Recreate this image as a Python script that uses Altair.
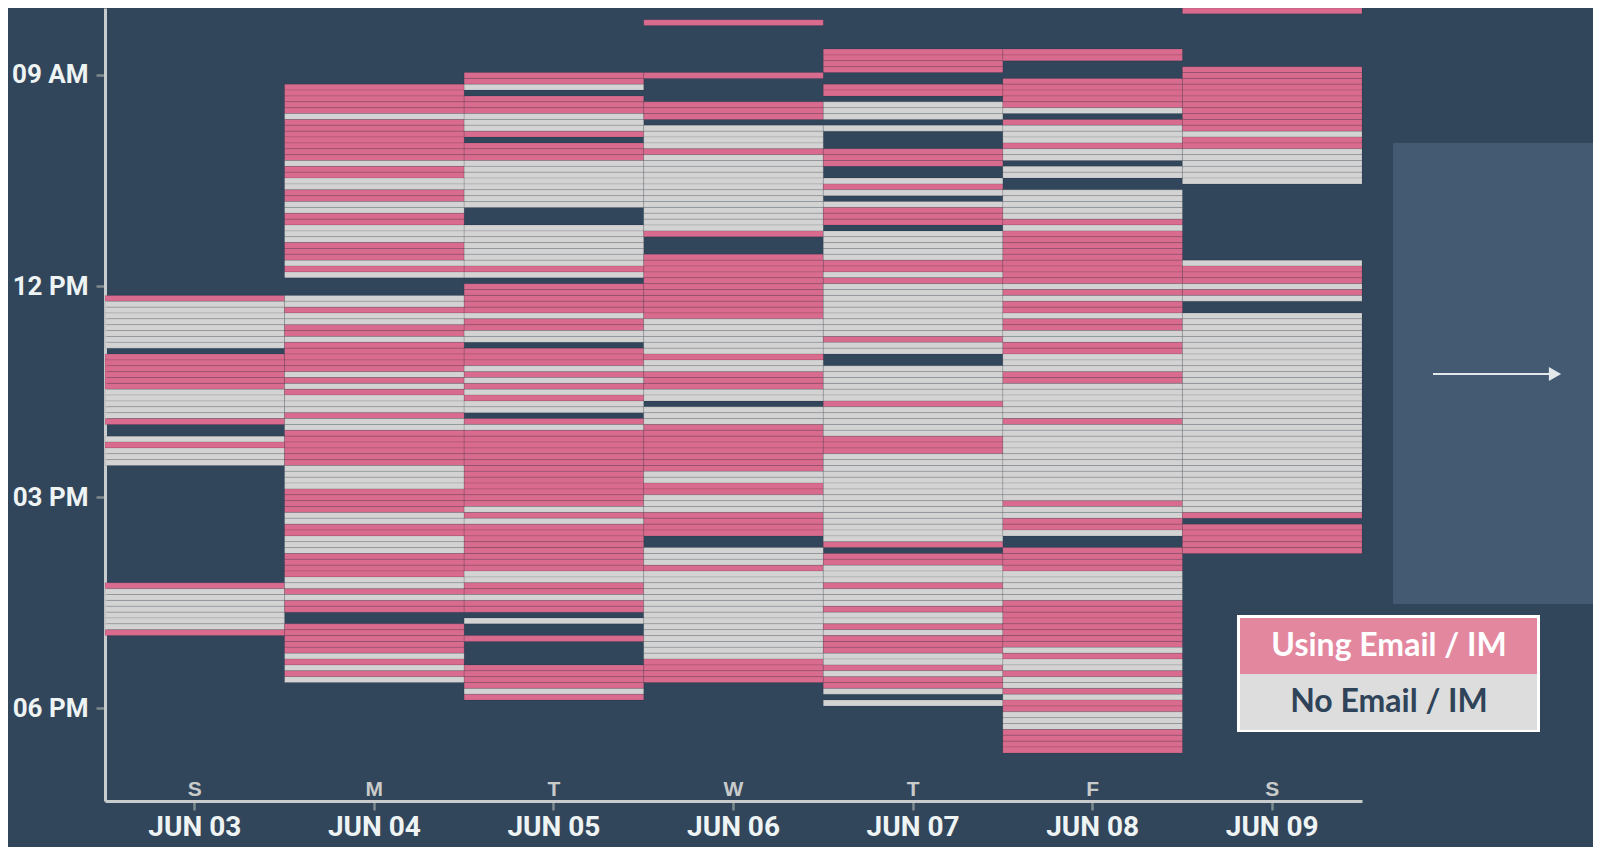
import altair as alt
import pandas as pd

# ---------------- data ----------------
DAYS = ["JUN 03", "JUN 04", "JUN 05", "JUN 06", "JUN 07", "JUN 08", "JUN 09"]
WEEKDAYS = ["S", "M", "T", "W", "T", "F", "S"]
FIRST_BIN_MIN = 483          # 08:03, first 5-minute bin on the time axis
BIN_MIN = 5
START_BIN = [49, 13, 11, 2, 7, 7, 0]   # index of first bin per day
# run-length encoded bins: E = using email/IM, N = no email/IM, _ = no record
RUNS = [
    "E1 N8 _1 E6 N5 E1 _2 N1 E1 N3 _20 E1 N7 E1",
    "E5 N1 E7 N1 E2 N2 E2 N2 E2 N3 E3 N1 E1 N1 _3 N2 E1 N2 E2 N1 E5 N1 E1 N1 E1 N3 E1 N2 E6 N4 E4 N2 E2 N3 E4 N2 E1 N1 E2 _2 E5 N1 E1 N1 E1 N1",
    "E2 N1 _1 E3 N3 E1 _1 E3 N8 _3 N7 E1 N1 _1 E5 N1 E2 N2 _1 E3 N1 E1 N1 E1 N1 E1 N2 _1 E1 N1 E13 N1 E1 N1 E8 N2 E2 N1 E2 _1 N1 _2 E1 _4 E4 N1 E1",
    "E1 _8 E1 _4 E3 _1 N4 E1 N13 E1 _3 E11 N6 E1 N2 E3 N2 _1 N3 E8 N2 E2 N3 E4 _2 N3 E1 N15 E4",
    "E4 _2 E2 _1 N3 _1 N1 _3 E3 _2 N1 E1 N1 _1 N1 E3 _1 N5 E2 N1 E1 N9 E1 N2 _2 N6 E1 N5 E3 N15 E1 _1 E2 N3 E1 N3 E1 N2 E1 N1 E3 N2 E1 N1 E2 N1 _1 N1",
    "E2 _3 E5 N1 _1 E1 N3 E1 N2 _1 N2 _2 N5 E1 N1 E9 N1 E1 N1 E2 N1 E2 N2 E2 N3 E2 N6 E1 N13 E1 N2 E2 N1 _2 E4 N5 E8 N1 E1 N2 E1 N2 E1 N1 E2 N3 E4",
    "E1 _9 E11 N1 E2 N6 _13 N1 E3 N1 E1 N1 _2 N34 E1 _1 E5",
]
STATES = {"E": "Using Email / IM", "N": "No Email / IM"}
LEGEND = ["Using Email / IM", "No Email / IM"]
TICK_MIN = [540, 720, 900, 1080]
TICK_TEXT = ["09 AM", "12 PM", "03 PM", "06 PM"]
Y_DOMAIN = [483, 1159]

# ---------------- styles ----------------
BG = "#31455b"
PANEL = "#435a72"
STRIP_COLORS = ["#d86b8e", "#d3d3d3"]
LEG_COLORS = ["#e3879f", "#dddddd"]
LEG_TEXT = ["#ffffff", "#2f4359"]
AXFONT = "Roboto, 'Liberation Sans', sans-serif"
W, H = 1257, 793

rows = []
for day, start, runs in zip(DAYS, START_BIN, RUNS):
    b = start
    for tok in runs.split():
        s, n = tok[0], int(tok[1:])
        for _ in range(n):
            if s != "_":
                t0 = FIRST_BIN_MIN + b * BIN_MIN
                rows.append({"day": day, "start": t0, "end": t0 + BIN_MIN, "state": STATES[s]})
            b += 1
df = pd.DataFrame(rows)

label_expr = " : ".join(f"datum.value == {m} ? '{t}'" for m, t in zip(TICK_MIN, TICK_TEXT)) + " : ''"

x_enc = alt.X(
    "day:N", sort=DAYS,
    scale=alt.Scale(domain=DAYS, paddingInner=0, paddingOuter=0),
    axis=alt.Axis(title=None, labelAngle=0, labelFont=AXFONT, labelFontSize=28,
                  labelFontWeight="bold", labelColor="#eef3f3", labelPadding=3,
                  labelBaseline="top", domainColor="#c9cccc", domainWidth=3,
                  tickColor="#7f8c8d", tickSize=9, tickWidth=2.5),
)

strips = alt.Chart(df).mark_rect(stroke="#000000", strokeOpacity=0.1, strokeWidth=1).encode(
    x=x_enc,
    y=alt.Y("start:Q",
            scale=alt.Scale(domain=Y_DOMAIN, reverse=True, nice=False, zero=False),
            axis=alt.Axis(title=None, values=TICK_MIN, labelExpr=label_expr, grid=False,
                          labelFont=AXFONT, labelFontSize=26, labelFontWeight="bold",
                          labelColor="#eef3f3", labelPadding=8, domainColor="#c9cccc",
                          domainWidth=3, tickColor="#7f8c8d", tickSize=9, tickWidth=2.5)),
    y2="end:Q",
    color=alt.Color("state:N", scale=alt.Scale(domain=LEGEND, range=STRIP_COLORS), legend=None),
)

wd = alt.Chart(pd.DataFrame({"day": DAYS, "wd": WEEKDAYS})).mark_text(
    font="'Liberation Sans', Arial, sans-serif", fontSize=21, fontWeight="bold",
    color="#c9cbcb", baseline="alphabetic"
).encode(x=alt.X("day:N", sort=DAYS), y=alt.value(H - 5), text="wd:N")

one = pd.DataFrame({"a": [0]})
panel = alt.Chart(one).mark_rect(color=PANEL).encode(
    x=alt.value(1288), x2=alt.value(1500), y=alt.value(135), y2=alt.value(596))
arrow_line = alt.Chart(one).mark_rule(color="#e4e8ea", strokeWidth=2).encode(
    x=alt.value(1328), x2=alt.value(1446), y=alt.value(366))
arrow_head = alt.Chart(one).mark_point(shape="triangle-right", filled=True, color="#e4e8ea",
                                       opacity=1, size=200).encode(
    x=alt.value(1450), y=alt.value(366))

legend_layers = [
    alt.Chart(one).mark_rect(color="#ffffff").encode(
        x=alt.value(1132), x2=alt.value(1435), y=alt.value(607), y2=alt.value(724))
]
for i, lab in enumerate(LEGEND):
    y0 = 610 + i * 56
    legend_layers.append(alt.Chart(one).mark_rect(color=LEG_COLORS[i]).encode(
        x=alt.value(1135), x2=alt.value(1432), y=alt.value(y0), y2=alt.value(y0 + 56)))
    legend_layers.append(alt.Chart(pd.DataFrame({"t": [lab]})).mark_text(
        font="Lato, 'Open Sans', sans-serif", fontSize=32, fontWeight="bold",
        color=LEG_TEXT[i], align="center", baseline="middle"
    ).encode(x=alt.value(1284), y=alt.value(y0 + 28), text="t:N"))

chart = alt.layer(strips, wd, panel, arrow_line, arrow_head, *legend_layers).properties(
    width=W, height=H,
    background=BG,
    padding={"left": 97, "top": 0, "right": 231, "bottom": 46},
    autosize=alt.AutoSizeParams(type="none"),
).configure_view(stroke=None)

chart.save("out.html", embed_options={"renderer": "svg", "actions": False})
